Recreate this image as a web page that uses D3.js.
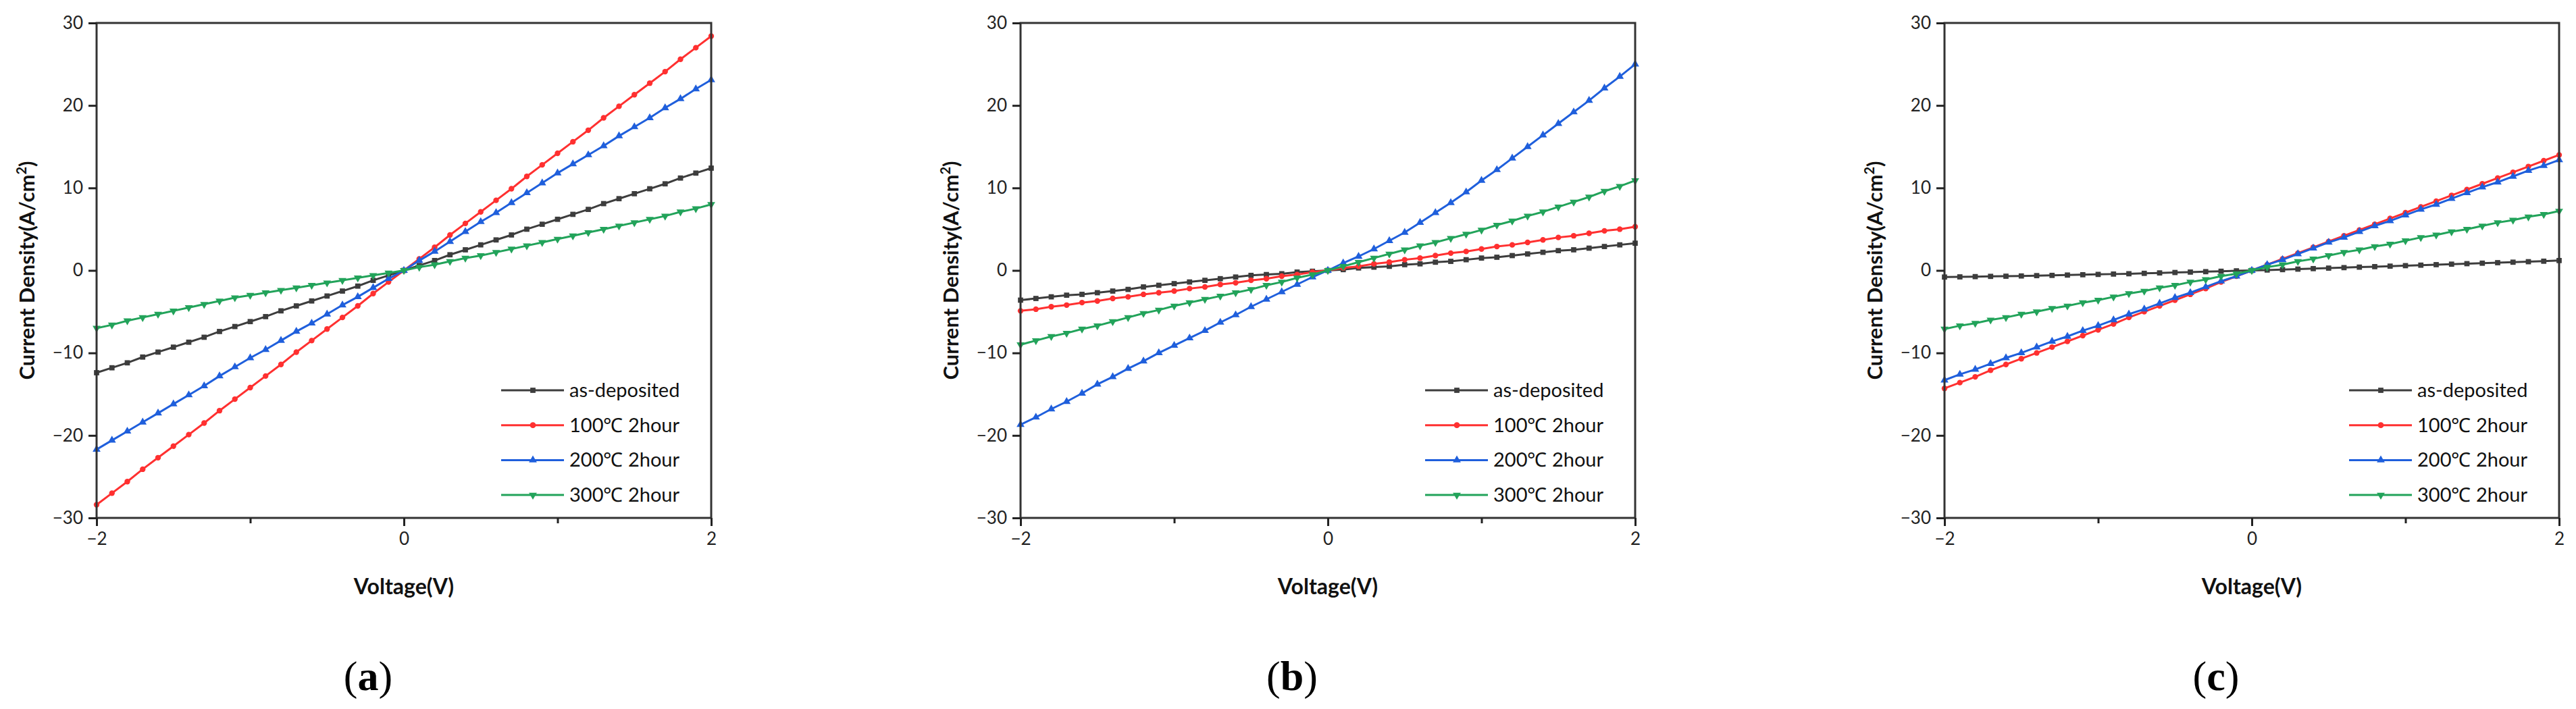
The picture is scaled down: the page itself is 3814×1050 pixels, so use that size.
<!DOCTYPE html>
<html>
<head>
<meta charset="utf-8">
<script src="https://cdn.jsdelivr.net/npm/d3@7"></script>
<style>
  body { margin: 0; background: #fff; }
  svg { display: block; }
  .tick text { font-family: Lato, "Open Sans", sans-serif; }
</style>
</head>
<body>
<svg id="chart" width="3814" height="1050"></svg>
<script>
const voltage = [-2.0,-1.9,-1.8,-1.7,-1.6,-1.5,-1.4,-1.3,-1.2,-1.1,-1.0,-0.9,-0.8,-0.7,-0.6,-0.5,-0.4,-0.3,-0.2,-0.1,
  0.0,0.1,0.2,0.3,0.4,0.5,0.6,0.7,0.8,0.9,1.0,1.1,1.2,1.3,1.4,1.5,1.6,1.7,1.8,1.9,2.0];

const seriesNames = ["as-deposited", "100℃ 2hour", "200℃ 2hour", "300℃ 2hour"];
const seriesColors = ["#3d3d3d", "#ff3030", "#1f5fdc", "#22a35a"];
const seriesShapes = [d3.symbolSquare, d3.symbolCircle, d3.symbolTriangle, "down"];
const panelLabels = ["a", "b", "c"];

const xTicks = [-2, -1, 0, 1, 2];
const xTickLabels = ["−2", "", "0", "", "2"];
const yTicks = [-30, -20, -10, 0, 10, 20, 30];
const yTickLabels = ["−30", "−20", "−10", "0", "10", "20", "30"];

// panel (a)
const aAsDep = [-12.4,-11.8,-11.2,-10.5,-9.9,-9.3,-8.7,-8.1,-7.4,-6.8,-6.2,-5.6,-4.9,-4.3,-3.7,-3.1,-2.5,-1.9,-1.2,-0.6,
  0,0.6,1.2,1.9,2.5,3.1,3.7,4.3,5.0,5.6,6.2,6.8,7.4,8.1,8.7,9.3,9.9,10.5,11.2,11.8,12.4];
const a100 = [-28.4,-27.0,-25.6,-24.1,-22.7,-21.3,-19.9,-18.5,-17.0,-15.6,-14.2,-12.8,-11.4,-9.9,-8.5,-7.1,-5.7,-4.3,-2.8,-1.4,
  0,1.4,2.8,4.3,5.7,7.1,8.5,9.9,11.4,12.8,14.2,15.6,17.0,18.5,19.9,21.3,22.7,24.1,25.6,27.0,28.4];
const a200 = [-21.7,-20.6,-19.5,-18.4,-17.3,-16.2,-15.1,-14.0,-12.8,-11.7,-10.6,-9.6,-8.5,-7.4,-6.4,-5.3,-4.2,-3.2,-2.1,-1.0,
  0,1.2,2.3,3.5,4.7,5.9,7.0,8.2,9.4,10.6,11.8,12.9,14.0,15.1,16.3,17.4,18.5,19.7,20.8,22.0,23.1];
const a300 = [-7.0,-6.6,-6.1,-5.7,-5.3,-4.9,-4.5,-4.1,-3.7,-3.3,-3.0,-2.7,-2.4,-2.1,-1.8,-1.5,-1.2,-0.9,-0.6,-0.3,
  0,0.4,0.7,1.1,1.5,1.8,2.2,2.6,3.0,3.4,3.8,4.2,4.6,5.0,5.4,5.8,6.2,6.6,7.1,7.5,8.0];

// panel (b)
const bAsDep = [-3.6,-3.4,-3.2,-3.0,-2.9,-2.7,-2.5,-2.3,-2.0,-1.8,-1.6,-1.4,-1.2,-1.0,-0.8,-0.6,-0.5,-0.4,-0.2,-0.1,
  0,0.1,0.3,0.4,0.5,0.7,0.8,1.0,1.1,1.3,1.5,1.6,1.8,2.0,2.2,2.4,2.5,2.7,2.9,3.1,3.3];
const b100 = [-4.9,-4.7,-4.4,-4.2,-3.9,-3.7,-3.4,-3.2,-2.9,-2.7,-2.5,-2.2,-2.0,-1.7,-1.5,-1.2,-1.0,-0.7,-0.5,-0.2,
  0,0.3,0.5,0.8,1.0,1.3,1.5,1.8,2.1,2.3,2.6,2.9,3.1,3.4,3.7,4.0,4.2,4.5,4.8,5.0,5.3];
const b200 = [-18.7,-17.8,-16.8,-15.9,-14.9,-13.8,-12.9,-11.9,-11.0,-10.0,-9.1,-8.2,-7.3,-6.3,-5.4,-4.4,-3.5,-2.6,-1.7,-0.8,
  0,0.9,1.7,2.6,3.6,4.6,5.8,7.0,8.2,9.5,10.9,12.2,13.6,15.0,16.4,17.8,19.2,20.6,22.1,23.5,25.0];
const b300 = [-9.0,-8.5,-8.0,-7.6,-7.1,-6.7,-6.2,-5.7,-5.2,-4.8,-4.3,-3.9,-3.5,-3.1,-2.7,-2.3,-1.8,-1.4,-0.9,-0.5,
  0,0.5,1.0,1.5,2.0,2.5,3.0,3.4,3.9,4.4,4.9,5.5,6.0,6.6,7.1,7.7,8.3,8.9,9.6,10.2,10.9];

// panel (c)
const cAsDep = [-0.8,-0.78,-0.75,-0.72,-0.7,-0.67,-0.63,-0.6,-0.56,-0.52,-0.48,-0.44,-0.4,-0.35,-0.3,-0.25,-0.2,-0.15,-0.1,-0.05,
  0,0.05,0.1,0.16,0.22,0.28,0.34,0.4,0.46,0.52,0.58,0.64,0.7,0.76,0.82,0.88,0.94,1.0,1.06,1.12,1.2];
const c100 = [-14.3,-13.6,-12.9,-12.1,-11.4,-10.7,-10.0,-9.3,-8.6,-7.9,-7.2,-6.5,-5.7,-5.0,-4.3,-3.6,-2.9,-2.2,-1.4,-0.7,
  0,0.7,1.4,2.1,2.8,3.5,4.2,4.9,5.6,6.3,7.0,7.7,8.4,9.1,9.8,10.5,11.2,11.9,12.6,13.3,14.0];
const c200 = [-13.3,-12.6,-12.0,-11.3,-10.6,-10.0,-9.3,-8.6,-8.0,-7.3,-6.7,-6.0,-5.3,-4.7,-4.0,-3.3,-2.7,-2.0,-1.3,-0.7,
  0,0.7,1.3,2.0,2.7,3.4,4.0,4.7,5.4,6.0,6.7,7.4,8.0,8.7,9.4,10.1,10.7,11.4,12.1,12.7,13.4];
const c300 = [-7.1,-6.7,-6.4,-6.0,-5.7,-5.3,-5.0,-4.6,-4.3,-3.9,-3.6,-3.2,-2.8,-2.5,-2.1,-1.8,-1.4,-1.1,-0.7,-0.4,
  0,0.4,0.7,1.1,1.4,1.8,2.2,2.5,2.9,3.2,3.6,4.0,4.3,4.7,5.0,5.4,5.8,6.1,6.5,6.8,7.2];

const panels = [
  { left: 143, series: [aAsDep, a100, a200, a300] },
  { left: 1511, series: [bAsDep, b100, b200, b300] },
  { left: 2879, series: [cAsDep, c100, c200, c300] }
];

const pw = 910, plotTop = 34, ph = 733;
const svg = d3.select("#chart");

function marker(shape, size) {
  if (shape === "down") {
    return d3.symbol().type(d3.symbolTriangle).size(size)();
  }
  return d3.symbol().type(shape).size(size)();
}

panels.forEach((p, pi) => {
  const g = svg.append("g").attr("transform", `translate(${p.left},${plotTop})`);

  const x = d3.scaleLinear().domain([-2, 2]).range([0, pw]);
  const y = d3.scaleLinear().domain([-30, 30]).range([ph, 0]);

  // curves
  p.series.forEach((vals, si) => {
    const pts = voltage.map((v, i) => [v, vals[i]]);
    g.append("path")
      .datum(pts)
      .attr("fill", "none")
      .attr("stroke", seriesColors[si])
      .attr("stroke-width", 3)
      .attr("d", d3.line().x(d => x(d[0])).y(d => y(d[1])));
    g.selectAll(".m" + si)
      .data(pts)
      .enter()
      .append("path")
      .attr("d", marker(seriesShapes[si], seriesShapes[si] === d3.symbolCircle ? 55 : 60))
      .attr("transform", d => `translate(${x(d[0])},${y(d[1])})` + (seriesShapes[si] === "down" ? " rotate(180)" : ""))
      .attr("fill", seriesColors[si]);
  });

  // frame
  g.append("rect").attr("width", pw).attr("height", ph)
    .attr("fill", "none").attr("stroke", "#333").attr("stroke-width", 3);

  const xAxis = d3.axisBottom(x).tickValues(xTicks)
    .tickFormat((d, i) => xTickLabels[i]).tickSize(12).tickPadding(10);
  const gx = g.append("g").attr("transform", `translate(0,${ph})`).call(xAxis);
  gx.selectAll(".tick line").attr("stroke-width", 3).attr("stroke", "#222")
    .attr("y2", (d, i) => xTickLabels[i] === "" ? 8 : 12);

  const yAxis = d3.axisLeft(y).tickValues(yTicks)
    .tickFormat((d, i) => yTickLabels[i]).tickSize(12).tickPadding(8);
  const gy = g.append("g").call(yAxis);
  gy.selectAll(".tick line").attr("stroke-width", 3).attr("stroke", "#222");

  [gx, gy].forEach(a => {
    a.select(".domain").remove();
    a.selectAll(".tick text").attr("font-size", 26).attr("fill", "#222");
  });

  // axis titles
  g.append("text")
    .attr("x", pw / 2).attr("y", ph + 113)
    .attr("text-anchor", "middle")
    .attr("font-family", "Lato, 'Open Sans', sans-serif")
    .attr("font-weight", "bold").attr("font-size", 32).attr("fill", "#111")
    .text("Voltage(V)");

  const yl = g.append("text")
    .attr("transform", `translate(-92,${ph / 2}) rotate(-90)`)
    .attr("text-anchor", "middle")
    .attr("font-family", "Lato, 'Open Sans', sans-serif")
    .attr("font-weight", "bold").attr("font-size", 31).attr("fill", "#111");
  yl.append("tspan").text("Current Density(A/cm");
  yl.append("tspan").attr("font-size", 20).attr("dy", -12).text("2");
  yl.append("tspan").attr("dy", 12).text(")");

  // legend
  const leg = g.append("g").attr("transform", `translate(${742 - 143},${578 - plotTop})`);
  seriesNames.forEach((name, si) => {
    const row = leg.append("g").attr("transform", `translate(0,${si * 51.7})`);
    row.append("line").attr("x1", 0).attr("x2", 93).attr("stroke", seriesColors[si]).attr("stroke-width", 3);
    row.append("path")
      .attr("d", marker(seriesShapes[si], 60))
      .attr("transform", "translate(47,0)" + (seriesShapes[si] === "down" ? " rotate(180)" : ""))
      .attr("fill", seriesColors[si]);
    row.append("text")
      .attr("x", 101).attr("y", 10)
      .attr("font-family", "Lato, 'Open Sans', sans-serif")
      .attr("font-size", 29).attr("fill", "#111")
      .text(name);
  });

  // caption
  const cap = svg.append("text")
    .attr("x", p.left + pw / 2 - 53).attr("y", 1022)
    .attr("text-anchor", "middle")
    .attr("font-family", "'Liberation Serif', serif")
    .attr("font-size", 62).attr("fill", "#000");
  cap.append("tspan").text("(");
  cap.append("tspan").attr("font-weight", "bold").text(panelLabels[pi]);
  cap.append("tspan").text(")");
});
</script>
</body>
</html>
